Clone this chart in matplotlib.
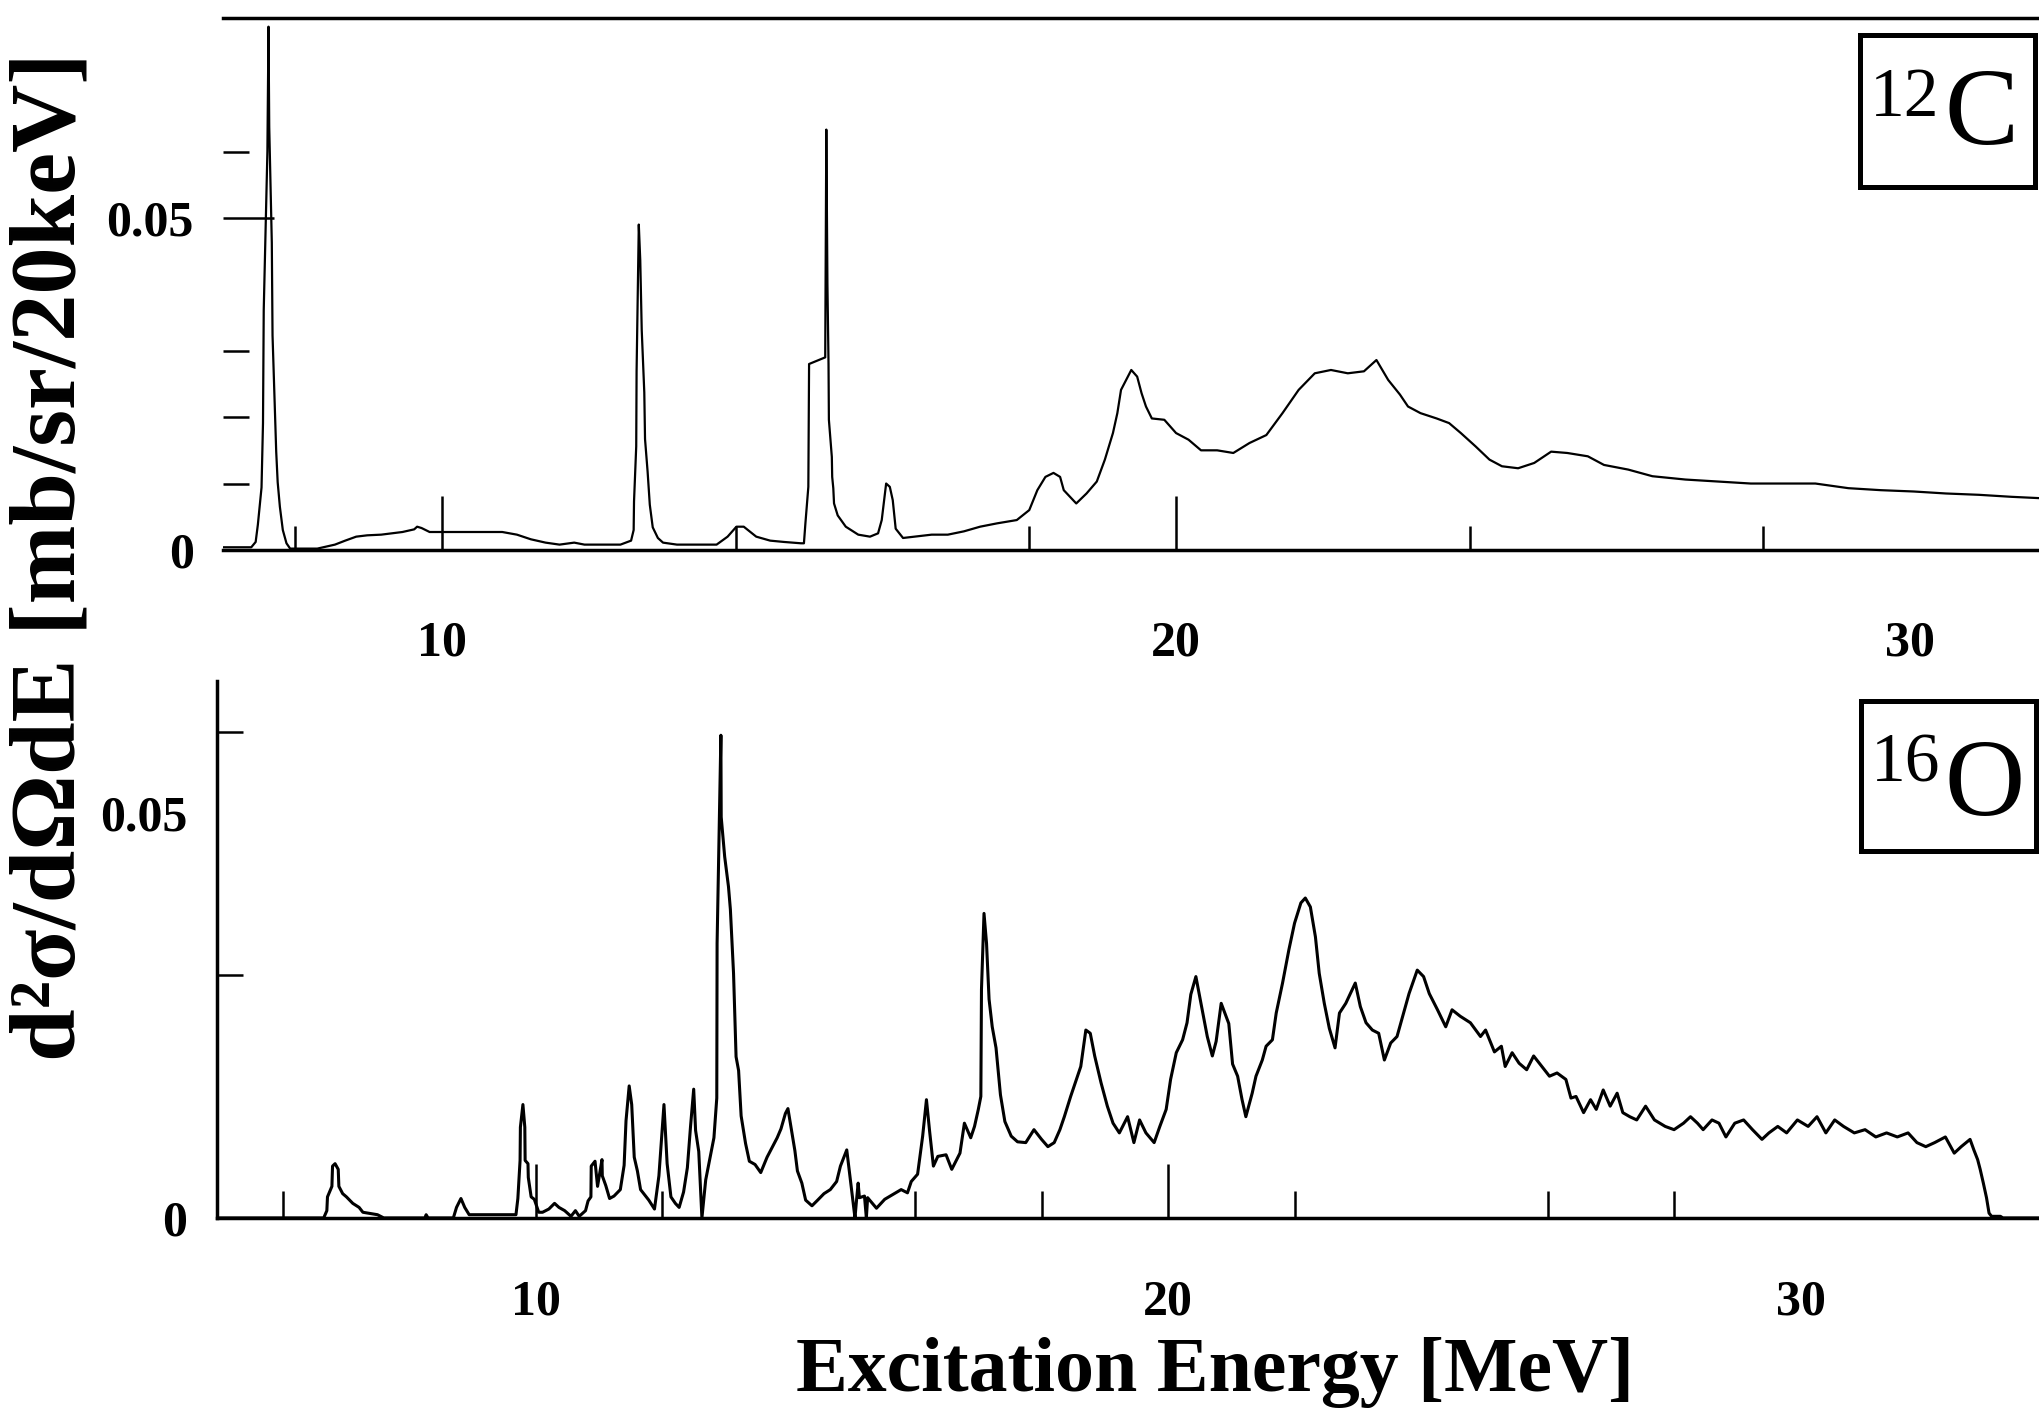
import matplotlib
matplotlib.use('Agg')
import matplotlib.pyplot as plt
from matplotlib.patches import Rectangle

plt.rcParams['font.family'] = 'Liberation Serif'
plt.rcParams['font.weight'] = 'bold'

# 12C spectrum, excitation energy [MeV] and cross section [mb/sr/20keV]
c12_e = [7.02, 7.40, 7.46, 7.49, 7.54, 7.56, 7.57, 7.62, 7.635, 7.645, 7.68, 7.69, 7.72, 7.74,
         7.76, 7.79, 7.83, 7.88, 7.93, 8.30, 8.54, 8.68, 8.83, 8.98, 9.17, 9.32, 9.46, 9.62,
         9.66, 9.72, 9.83, 10.05, 10.43, 10.82, 11.02, 11.21, 11.41, 11.60, 11.80, 11.94, 12.19,
         12.43, 12.575, 12.61, 12.615, 12.645, 12.65, 12.68, 12.70, 12.72, 12.755, 12.765, 12.80,
         12.83, 12.87, 12.94, 13.01, 13.20, 13.74, 13.89, 14.01, 14.11, 14.28, 14.47, 14.66,
         14.89, 14.93, 14.95, 14.99, 15.00, 15.22, 15.235, 15.25, 15.265, 15.27, 15.31, 15.315,
         15.33, 15.34, 15.39, 15.50, 15.67, 15.83, 15.94, 15.99, 16.05, 16.10, 16.14, 16.18,
         16.28, 16.44, 16.67, 16.89, 17.11, 17.33, 17.56, 17.83, 18.00, 18.11, 18.22, 18.33,
         18.42, 18.47, 18.64, 18.78, 18.92, 19.03, 19.14, 19.20, 19.25, 19.39, 19.47, 19.53,
         19.59, 19.67, 19.84, 20.00, 20.17, 20.34, 20.56, 20.78, 21.00, 21.23, 21.45, 21.67,
         21.89, 22.11, 22.34, 22.56, 22.73, 22.89, 23.05, 23.16, 23.33, 23.55, 23.72, 23.88,
         24.08, 24.27, 24.44, 24.66, 24.88, 25.11, 25.33, 25.61, 25.83, 26.16, 26.49, 26.94,
         27.38, 27.83, 28.27, 28.71, 29.16, 29.60, 30.05, 30.49, 30.94, 31.38, 31.76]
c12_v = [0.0004, 0.0004, 0.0012, 0.0038, 0.0094, 0.0191, 0.0361, 0.0600, 0.0788, 0.0637, 0.0463,
         0.0323, 0.0221, 0.0148, 0.0102, 0.0065, 0.0030, 0.0010, 0.0002, 0.0002, 0.0008, 0.0014,
         0.0020, 0.0022, 0.0023, 0.0025, 0.0027, 0.0031, 0.0035, 0.0033, 0.0027, 0.0027, 0.0027,
         0.0027, 0.0023, 0.0016, 0.0011, 0.0008, 0.0011, 0.0008, 0.0008, 0.0008, 0.0014, 0.0030,
         0.0073, 0.0156, 0.0269, 0.0490, 0.0436, 0.0331, 0.0237, 0.0167, 0.0118, 0.0068, 0.0034,
         0.0018, 0.0011, 0.0008, 0.0008, 0.0020, 0.0035, 0.0035, 0.0020, 0.0014, 0.0012, 0.0010,
         0.0010, 0.0040, 0.0095, 0.0280, 0.0290, 0.0633, 0.0400, 0.0280, 0.0196, 0.0140, 0.0110,
         0.0093, 0.0070, 0.0052, 0.0035, 0.0023, 0.0020, 0.0025, 0.0045, 0.0100, 0.0095, 0.0075,
         0.0032, 0.0018, 0.0020, 0.0023, 0.0023, 0.0028, 0.0035, 0.0040, 0.0045, 0.0060, 0.0090,
         0.0110, 0.0116, 0.0110, 0.0090, 0.0070, 0.0085, 0.0103, 0.0136, 0.0176, 0.0206, 0.0241,
         0.0271, 0.0261, 0.0236, 0.0216, 0.0198, 0.0196, 0.0176, 0.0166, 0.0150, 0.0150, 0.0146,
         0.0161, 0.0173, 0.0206, 0.0241, 0.0266, 0.0271, 0.0266, 0.0269, 0.0286, 0.0256, 0.0234,
         0.0216, 0.0206, 0.0198, 0.0191, 0.0176, 0.0156, 0.0136, 0.0126, 0.0123, 0.0131, 0.0148,
         0.0146, 0.0141, 0.0128, 0.0121, 0.0111, 0.0106, 0.0103, 0.0100, 0.0100, 0.0100, 0.0093,
         0.0090, 0.0088, 0.0085, 0.0083, 0.0080, 0.0078]

# 16O spectrum
o16_e = [5.00, 6.65, 6.70, 6.71, 6.78, 6.79, 6.83, 6.88, 6.89, 6.95, 7.01, 7.11, 7.21, 7.27, 7.50,
         7.60, 8.25, 8.27, 8.30, 8.70, 8.75, 8.82, 8.88, 8.95, 9.69, 9.72, 9.755, 9.76, 9.80,
         9.83, 9.835, 9.88, 9.885, 9.93, 9.98, 10.05, 10.11, 10.21, 10.30, 10.37, 10.46, 10.56,
         10.63, 10.69, 10.79, 10.83, 10.875, 10.88, 10.94, 10.98, 11.05, 11.055, 11.11, 11.17,
         11.24, 11.34, 11.40, 11.43, 11.48, 11.52, 11.56, 11.61, 11.66, 11.79, 11.88, 11.95,
         12.03, 12.08, 12.14, 12.21, 12.27, 12.34, 12.40, 12.45, 12.50, 12.53, 12.58, 12.63,
         12.69, 12.76, 12.82, 12.865, 12.87, 12.93, 12.935, 12.99, 13.05, 13.08, 13.13, 13.17,
         13.21, 13.25, 13.32, 13.38, 13.47, 13.56, 13.66, 13.76, 13.82, 13.88, 13.95, 13.99,
         14.05, 14.10, 14.14, 14.21, 14.27, 14.37, 14.46, 14.56, 14.66, 14.76, 14.82, 14.92,
         15.05, 15.07, 15.10, 15.12, 15.20, 15.23, 15.25, 15.39, 15.52, 15.65, 15.78, 15.88,
         15.94, 16.04, 16.12, 16.18, 16.23, 16.29, 16.36, 16.49, 16.58, 16.71, 16.78, 16.88,
         16.94, 17.00, 17.04, 17.05, 17.09, 17.13, 17.17, 17.22, 17.28, 17.35, 17.42, 17.52,
         17.62, 17.75, 17.88, 18.00, 18.10, 18.20, 18.29, 18.36, 18.46, 18.55, 18.62, 18.70,
         18.77, 18.84, 18.94, 19.04, 19.13, 19.23, 19.36, 19.46, 19.55, 19.65, 19.78, 19.87,
         19.97, 20.04, 20.13, 20.23, 20.30, 20.36, 20.44, 20.53, 20.62, 20.70, 20.76, 20.84,
         20.96, 21.02, 21.10, 21.17, 21.23, 21.33, 21.39, 21.49, 21.55, 21.65, 21.71, 21.81,
         21.91, 22.00, 22.10, 22.17, 22.25, 22.33, 22.39, 22.47, 22.55, 22.64, 22.71, 22.81,
         22.96, 23.04, 23.13, 23.23, 23.33, 23.42, 23.52, 23.62, 23.71, 23.81, 23.94, 24.04,
         24.13, 24.26, 24.39, 24.49, 24.62, 24.78, 24.94, 25.02, 25.16, 25.27, 25.33, 25.44,
         25.55, 25.67, 25.78, 25.89, 26.03, 26.15, 26.29, 26.37, 26.45, 26.57, 26.68, 26.77,
         26.88, 26.99, 27.10, 27.19, 27.30, 27.41, 27.55, 27.69, 27.86, 28.00, 28.15, 28.26,
         28.37, 28.46, 28.60, 28.71, 28.82, 28.96, 29.10, 29.24, 29.39, 29.50, 29.64, 29.78,
         29.95, 30.12, 30.26, 30.40, 30.54, 30.68, 30.85, 31.02, 31.19, 31.36, 31.53, 31.70,
         31.84, 31.98, 32.12, 32.29, 32.43, 32.54, 32.68, 32.74, 32.80, 32.84, 32.89, 32.94,
         32.98, 33.02, 33.16, 33.20, 33.77]
o16_v = [0.0, 0.0, 0.0009, 0.0026, 0.0039, 0.0064, 0.0067, 0.0060, 0.0039, 0.0030, 0.0026, 0.0018,
         0.0013, 0.0007, 0.0004, 0.0, 0.0, 0.0004, 0.0, 0.0, 0.0013, 0.0024, 0.0013, 0.0004,
         0.0004, 0.0024, 0.0071, 0.0112, 0.0140, 0.0112, 0.0071, 0.0067, 0.0050, 0.0026, 0.0023,
         0.0007, 0.0007, 0.0011, 0.0018, 0.0013, 0.0009, 0.0002, 0.0009, 0.0002, 0.0009, 0.0021,
         0.0026, 0.0064, 0.0070, 0.0039, 0.0072, 0.0052, 0.0040, 0.0024, 0.0027, 0.0035, 0.0065,
         0.0120, 0.0163, 0.0140, 0.0075, 0.0058, 0.0035, 0.0022, 0.0011, 0.0052, 0.0140, 0.0067,
         0.0026, 0.0018, 0.0013, 0.0032, 0.0062, 0.0113, 0.0159, 0.0108, 0.0082, 0.0, 0.0047,
         0.0075, 0.0099, 0.0148, 0.0339, 0.0596, 0.0495, 0.0446, 0.0409, 0.0381, 0.0302, 0.0199,
         0.0182, 0.0126, 0.0092, 0.0070, 0.0066, 0.0056, 0.0075, 0.0090, 0.0099, 0.0110, 0.0129,
         0.0135, 0.0107, 0.0083, 0.0058, 0.0043, 0.0022, 0.0015, 0.0022, 0.0030, 0.0035, 0.0045,
         0.0064, 0.0084, 0.0, 0.0018, 0.0043, 0.0025, 0.0027, 0.0, 0.0025, 0.0012, 0.0023, 0.0029,
         0.0035, 0.0031, 0.0045, 0.0054, 0.0101, 0.0146, 0.0107, 0.0064, 0.0076, 0.0078, 0.0060,
         0.0080, 0.0117, 0.0099, 0.0113, 0.0134, 0.0150, 0.0282, 0.0376, 0.0339, 0.0270, 0.0236,
         0.0210, 0.0152, 0.0119, 0.0101, 0.0094, 0.0093, 0.0109, 0.0097, 0.0088, 0.0093, 0.0109,
         0.0125, 0.0150, 0.0171, 0.0187, 0.0232, 0.0228, 0.0200, 0.0167, 0.0138, 0.0117, 0.0105,
         0.0125, 0.0093, 0.0121, 0.0105, 0.0093, 0.0113, 0.0134, 0.0171, 0.0204, 0.0220, 0.0241,
         0.0276, 0.0298, 0.0261, 0.0224, 0.0200, 0.0218, 0.0265, 0.0240, 0.0190, 0.0175, 0.0146,
         0.0125, 0.0154, 0.0175, 0.0195, 0.0212, 0.0220, 0.0253, 0.0290, 0.0331, 0.0364, 0.0389,
         0.0395, 0.0384, 0.0347, 0.0302, 0.0265, 0.0234, 0.0210, 0.0253, 0.0265, 0.0290, 0.0261,
         0.0241, 0.0232, 0.0228, 0.0195, 0.0216, 0.0224, 0.0249, 0.0277, 0.0306, 0.0298, 0.0277,
         0.0257, 0.0236, 0.0257, 0.0249, 0.0241, 0.0224, 0.0232, 0.0205, 0.0212, 0.0187, 0.0204,
         0.0191, 0.0183, 0.0200, 0.0189, 0.0175, 0.0179, 0.0171, 0.0148, 0.0150, 0.0130, 0.0146,
         0.0134, 0.0158, 0.0138, 0.0154, 0.0130, 0.0125, 0.0121, 0.0138, 0.0121, 0.0113, 0.0109,
         0.0117, 0.0125, 0.0117, 0.0109, 0.0121, 0.0117, 0.0100, 0.0117, 0.0121, 0.0109, 0.0097,
         0.0105, 0.0113, 0.0105, 0.0121, 0.0113, 0.0125, 0.0105, 0.0121, 0.0113, 0.0105, 0.0109,
         0.0100, 0.0105, 0.0100, 0.0105, 0.0093, 0.0088, 0.0093, 0.0100, 0.0080, 0.0088, 0.0097,
         0.0084, 0.0072, 0.0060, 0.0043, 0.0025, 0.0006, 0.0002, 0.0002, 0.0, 0.0]

label_ticks = [10, 20, 30]
label_text = ['10', '20', '30']
c12_minor_x = [8, 14, 18, 24, 28]
o16_minor_x = [6, 12, 16, 18, 22, 26, 28]
y_label_ticks = [0, 0.05]
y_label_text = ['0', '0.05']
c12_minor_y = [0.01, 0.02, 0.03, 0.06]
o16_minor_y = [0.03, 0.06]

fig = plt.figure(figsize=(20.39, 14.09), dpi=100)
ax1 = fig.add_axes([0.1094, 0.6097, 0.8906, 0.3775])
ax2 = fig.add_axes([0.1062, 0.1356, 0.8938, 0.3811])

ax1.plot(c12_e, c12_v, color='black', lw=1.6)
ax2.plot(o16_e, o16_v, color='black', lw=2.2)

ax1.set_xlim(7.016, 31.757)
ax1.set_ylim(0, 0.0801)
ax2.set_xlim(4.956, 33.77)
ax2.set_ylim(0, 0.0663)

for ax, mx, my, xpad, ylen, mxlen in [(ax1, c12_minor_x, c12_minor_y, 51, 37, 17),
                                      (ax2, o16_minor_x, o16_minor_y, 44, 0, 19.5)]:
    ax.set_xticks(label_ticks, label_text)
    ax.set_xticks(mx, minor=True)
    ax.set_yticks(y_label_ticks, y_label_text)
    ax.set_yticks(my, minor=True)
    ax.tick_params(axis='x', which='major', direction='in', length=39, width=1.8,
                   pad=xpad, labelsize=36)
    ax.tick_params(axis='x', which='minor', direction='in', length=mxlen, width=1.8)
    ax.tick_params(axis='y', which='major', direction='in', length=ylen, width=1.8,
                   pad=21, labelsize=36)
    ax.tick_params(axis='y', which='minor', direction='in', length=19, width=1.8)
    ax.xaxis.get_major_ticks()[2].tick1line.set_visible(False)
    for s in ax.spines.values():
        s.set_linewidth(2.5)
    ax.spines['right'].set_visible(False)

ax1.spines['left'].set_visible(False)
ax2.spines['top'].set_visible(False)

fig.text(0.0255, 0.605, 'd²σ/dΩdE [mb/sr/20keV]', rotation=90, ha='center', va='center',
         fontsize=68)
fig.text(0.596, 0.013, 'Excitation Energy [MeV]', ha='center', va='baseline', fontsize=56)

# nucleus labels in boxes
fig.add_artist(Rectangle((0.9122, 0.8673), 0.0858, 0.1079, transform=fig.transFigure,
                         fill=False, lw=3.6, ec='black'))
fig.text(0.9170, 0.9180, '12', fontsize=50, fontweight='normal', ha='left', va='baseline')
fig.text(0.9535, 0.8975, 'C', fontsize=80, fontweight='normal', ha='left', va='baseline')
fig.add_artist(Rectangle((0.9127, 0.396), 0.0858, 0.1065, transform=fig.transFigure,
                         fill=False, lw=3.6, ec='black'))
fig.text(0.9175, 0.4450, '16', fontsize=50, fontweight='normal', ha='left', va='baseline')
fig.text(0.9535, 0.4216, 'O', fontsize=80, fontweight='normal', ha='left', va='baseline')

fig.savefig('out.png', dpi=100)
